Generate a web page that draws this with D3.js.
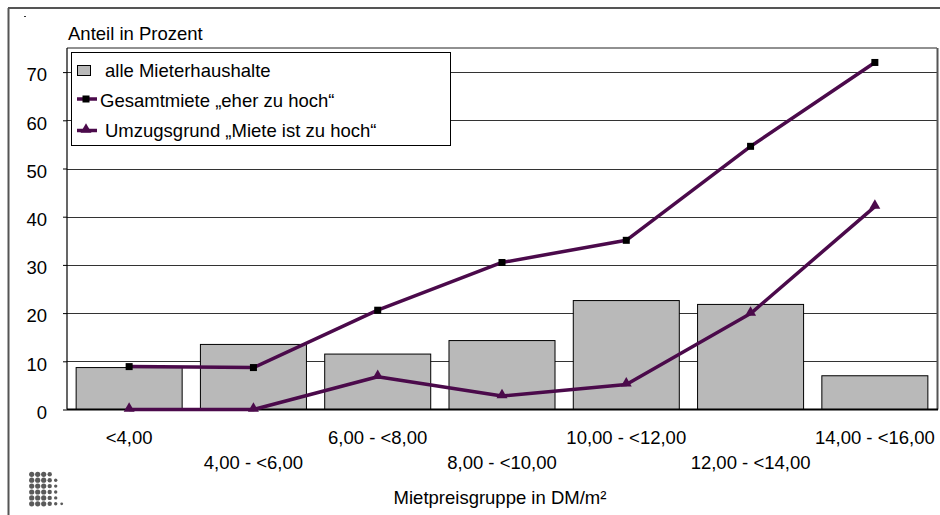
<!DOCTYPE html>
<html>
<head>
<meta charset="utf-8">
<script src="https://cdn.jsdelivr.net/npm/d3@7"></script>
<style>
  html, body { margin: 0; padding: 0; background: #fff; }
  svg { display: block; }
  text { font-family: "Liberation Sans", Arial, Helvetica, sans-serif; fill: #000; }
</style>
</head>
<body>
<svg id="chart" width="940" height="515"></svg>
<script>
// ---- data ----
const categories = ["<4,00", "4,00 - <6,00", "6,00 - <8,00", "8,00 - <10,00", "10,00 - <12,00", "12,00 - <14,00", "14,00 - <16,00"];
const alleMieterhaushalte = [8.7, 13.5, 11.5, 14.3, 22.6, 21.8, 7.0];
const gesamtmieteEherZuHoch = [8.9, 8.7, 20.6, 30.5, 35.1, 54.6, 72.0];
const umzugsgrundMieteZuHoch = [0, 0, 6.8, 2.8, 5.2, 19.9, 42.1];
const yTickValues = [0, 10, 20, 30, 40, 50, 60, 70];
const seriesNames = ["alle Mieterhaushalte", "Gesamtmiete \u201eeher zu hoch\u201c", "Umzugsgrund \u201eMiete ist zu hoch\u201c"];
const yTitle = "Anteil in Prozent";
const xTitle = "Mietpreisgruppe in DM/m\u00b2";
// decorative dot logo: dots per row
const logoRows = [4, 5, 5, 5, 5, 6];

// ---- layout ----
const svg = d3.select("#chart");
const plot = { left: 67, right: 937, top: 48, bottom: 409.5 };
const lineColor = "#4b0a4b";
const barFill = "#b9b9b9";
const fontSize = 18.5;

const x = d3.scaleBand().domain(categories).range([plot.left, plot.right]).paddingInner(0.147).paddingOuter(0.0735);
const y = d3.scaleLinear().domain([0, 75]).range([plot.bottom, plot.top]);
const cx = c => x(c) + x.bandwidth() / 2;

// outer frame
svg.append("line").attr("x1", 8.5).attr("y1", 8).attr("x2", 8.5).attr("y2", 515).attr("stroke", "#555").attr("stroke-width", 2);
svg.append("line").attr("x1", 8).attr("y1", 8).attr("x2", 940).attr("y2", 8).attr("stroke", "#555").attr("stroke-width", 2);
svg.append("rect").attr("x", 24).attr("y", 16).attr("width", 2).attr("height", 1).attr("fill", "#333");

// gridlines
svg.append("g").selectAll("line").data(yTickValues.filter(d => d > 0)).join("line")
  .attr("x1", plot.left).attr("x2", plot.right)
  .attr("y1", d => Math.round(y(d)) + 0.5).attr("y2", d => Math.round(y(d)) + 0.5)
  .attr("stroke", "#333").attr("stroke-width", 1);

// plot top & right border
svg.append("line").attr("x1", plot.left).attr("x2", plot.right).attr("y1", plot.top).attr("y2", plot.top).attr("stroke", "#222").attr("stroke-width", 1);
svg.append("line").attr("x1", plot.right + 0.5).attr("x2", plot.right + 0.5).attr("y1", plot.top).attr("y2", plot.bottom).attr("stroke", "#555").attr("stroke-width", 2);

// bars
svg.append("g").selectAll("rect").data(categories).join("rect")
  .attr("x", c => x(c))
  .attr("y", (c, i) => y(alleMieterhaushalte[i]))
  .attr("width", x.bandwidth())
  .attr("height", (c, i) => plot.bottom - y(alleMieterhaushalte[i]))
  .attr("fill", barFill).attr("stroke", "#000").attr("stroke-width", 1);

// y axis
const yAxis = svg.append("g").attr("transform", `translate(${plot.left},0)`)
  .call(d3.axisLeft(y).tickValues(yTickValues).tickSize(4).tickPadding(16).tickFormat(d3.format("d")));
yAxis.select(".domain").remove();
yAxis.selectAll(".tick line").attr("stroke", "#000");
yAxis.selectAll(".tick text").attr("font-size", fontSize).attr("font-family", "Liberation Sans, Arial, sans-serif").attr("dy", "0.48em").attr("fill", "#000");
svg.append("line").attr("x1", plot.left).attr("x2", plot.left).attr("y1", plot.top).attr("y2", plot.bottom).attr("stroke", "#000").attr("stroke-width", 1.2);
// x axis baseline
svg.append("line").attr("x1", plot.left).attr("x2", plot.right + 1).attr("y1", plot.bottom).attr("y2", plot.bottom).attr("stroke", "#000").attr("stroke-width", 2);

// x labels (staggered)
svg.append("g").selectAll("text").data(categories).join("text")
  .attr("x", c => cx(c))
  .attr("y", (c, i) => i % 2 === 0 ? 443.5 : 468.5)
  .attr("text-anchor", "middle").attr("font-size", fontSize)
  .text(c => c);

// titles
svg.append("text").attr("x", 68).attr("y", 39.5).attr("font-size", fontSize).text(yTitle);
svg.append("text").attr("x", 500).attr("y", 504).attr("text-anchor", "middle").attr("font-size", fontSize).text(xTitle);

// lines
const lineGen = d3.line().x((v, i) => cx(categories[i])).y(v => y(v));
svg.append("path").datum(gesamtmieteEherZuHoch).attr("d", lineGen).attr("fill", "none").attr("stroke", lineColor).attr("stroke-width", 3.5).attr("stroke-linejoin", "round");
svg.append("path").datum(umzugsgrundMieteZuHoch).attr("d", lineGen).attr("fill", "none").attr("stroke", lineColor).attr("stroke-width", 3.5).attr("stroke-linejoin", "round");

const sq = 7;
svg.append("g").selectAll("rect").data(gesamtmieteEherZuHoch).join("rect")
  .attr("x", (v, i) => cx(categories[i]) - sq / 2).attr("y", v => y(v) - sq / 2)
  .attr("width", sq).attr("height", sq).attr("fill", "#000");

const tri = d3.symbol().type(d3.symbolTriangle).size(52);
svg.append("g").selectAll("path").data(umzugsgrundMieteZuHoch).join("path")
  .attr("transform", (v, i) => `translate(${cx(categories[i])},${y(v) - 1})`)
  .attr("d", tri).attr("fill", lineColor);

// legend
const lg = svg.append("g");
lg.append("rect").attr("x", 71.5).attr("y", 52.5).attr("width", 379).attr("height", 93).attr("fill", "#fff").attr("stroke", "#000").attr("stroke-width", 1);
lg.append("rect").attr("x", 77.5).attr("y", 65.5).attr("width", 13).attr("height", 10).attr("fill", barFill).attr("stroke", "#000").attr("stroke-width", 1);
lg.append("text").attr("x", 105).attr("y", 76.5).attr("font-size", fontSize).text(seriesNames[0]);
lg.append("line").attr("x1", 77).attr("x2", 97).attr("y1", 99).attr("y2", 99).attr("stroke", lineColor).attr("stroke-width", 3.5);
lg.append("rect").attr("x", 86 - sq / 2).attr("y", 99 - sq / 2).attr("width", sq).attr("height", sq).attr("fill", "#000");
lg.append("text").attr("x", 100).attr("y", 106.5).attr("font-size", fontSize).text(seriesNames[1]);
lg.append("line").attr("x1", 77).attr("x2", 97).attr("y1", 130.5).attr("y2", 130.5).attr("stroke", lineColor).attr("stroke-width", 3.5);
lg.append("path").attr("transform", "translate(86,129.5)").attr("d", tri).attr("fill", lineColor);
lg.append("text").attr("x", 105).attr("y", 136.5).attr("font-size", fontSize).text(seriesNames[2]);

// dot logo
const logo = svg.append("g").attr("fill", "#5a5a5a");
const radii = [2.6, 2.6, 2.6, 2.2, 1.7, 1.4];
logoRows.forEach((n, r) => {
  for (let c = 0; c < n; c++) {
    logo.append("circle").attr("cx", 31.7 + c * 6).attr("cy", 474.3 + r * 5.9).attr("r", radii[c]);
  }
});
</script>
</body>
</html>
